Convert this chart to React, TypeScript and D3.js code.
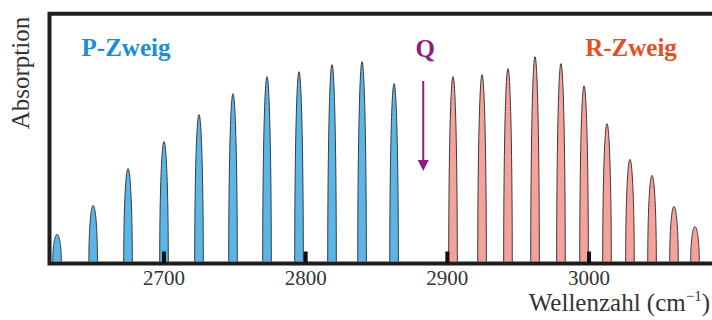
import React from "react";
import * as d3 from "d3";

// P-branch line positions (cm^-1) and relative absorption
const pWave = [2624.5, 2650, 2674.6, 2700, 2724.7, 2748.7, 2772.7, 2795.3, 2818.6, 2839.8, 2862.4];
const pAbs = [0.11, 0.228, 0.378, 0.488, 0.598, 0.683, 0.752, 0.772, 0.801, 0.813, 0.724];

// R-branch
const rWave = [2904, 2924.5, 2942.8, 2961.9, 2980.2, 2996.5, 3012.7, 3028.9, 3044.5, 3060, 3074.8];
const rAbs = [0.752, 0.76, 0.785, 0.833, 0.805, 0.715, 0.561, 0.415, 0.35, 0.224, 0.142];

const qWave = 2883;
const xTicks = [2700, 2800, 2900, 3000];

const W = 712;
const H = 320;
const left = 49.5;
const top = 13.7;
const bottom = 263.5;

const x = d3.scaleLinear().domain([2700, 3000]).range([164, 589]);
const y = d3.scaleLinear().domain([0, 1]).range([261.5, 15.7]);

const halfW = 4.3;
const serif = { fontFamily: "'Liberation Serif', 'DejaVu Serif', 'Times New Roman', serif" };

const peakPath = (wave: number, abs: number) => {
  const cx = x(wave);
  const pts: [number, number][] = d3.range(0, 61).map((i) => {
    const th = Math.PI - (i / 60) * Math.PI;
    return [cx + halfW * Math.cos(th), y(0) - (y(0) - y(abs)) * Math.sin(th)];
  });
  return d3.line()(pts) as string;
};

const Peaks = ({ waves, abs, fill }: { waves: number[]; abs: number[]; fill: string }) => (
  <g>
    {waves.map((w, i) => (
      <path key={i} d={peakPath(w, abs[i])} fill={fill} stroke="#3a3a3a" strokeWidth={1} />
    ))}
  </g>
);

export default function App() {
  const qx = x(qWave);
  return (
    <svg
      width={W}
      height={H}
      style={{ position: "absolute", left: 0, top: 0, background: "#fff" }}
    >
      <Peaks waves={pWave} abs={pAbs} fill="#5bb6e8" />
      <Peaks waves={rWave} abs={rAbs} fill="#f5a19c" />

      {/* frame */}
      <path
        d={`M${W + 5},${top} L${left},${top} L${left},${bottom} L${W + 5},${bottom}`}
        fill="none"
        stroke="#1e1e1e"
        strokeWidth={4}
      />

      {xTicks.map((t) => (
        <g key={t}>
          <rect x={x(t) - 2} y={bottom - 12} width={4} height={12} fill="#111" />
          <text x={x(t)} y={285} textAnchor="middle" fontSize={21} fill="#333" style={serif}>
            {t}
          </text>
        </g>
      ))}

      {/* Q arrow */}
      <line x1={qx} x2={qx} y1={81} y2={162} stroke="#8b1f7e" strokeWidth={2} />
      <path d={`M${qx - 5.5},${160} L${qx + 5.5},${160} L${qx},${171} Z`} fill="#8b1f7e" />
      <text x={qx + 2} y={57} textAnchor="middle" fontSize={25} fontWeight="bold" fill="#8b1f7e" style={serif}>
        Q
      </text>

      <text x={126} y={56} textAnchor="middle" fontSize={25} fontWeight="bold" fill="#1c8dd6" style={serif}>
        P-Zweig
      </text>
      <text x={631} y={56} textAnchor="middle" fontSize={25} fontWeight="bold" fill="#e2501f" style={serif}>
        R-Zweig
      </text>

      <text
        transform={`translate(29,73) rotate(-90)`}
        textAnchor="middle"
        fontSize={25}
        fill="#333"
        style={serif}
      >
        Absorption
      </text>

      <text x={710} y={311} textAnchor="end" fontSize={25} fill="#333" style={serif}>
        Wellenzahl (cm
        <tspan fontSize={15} dy={-10}>
          −1
        </tspan>
        <tspan dy={10}>)</tspan>
      </text>
    </svg>
  );
}
